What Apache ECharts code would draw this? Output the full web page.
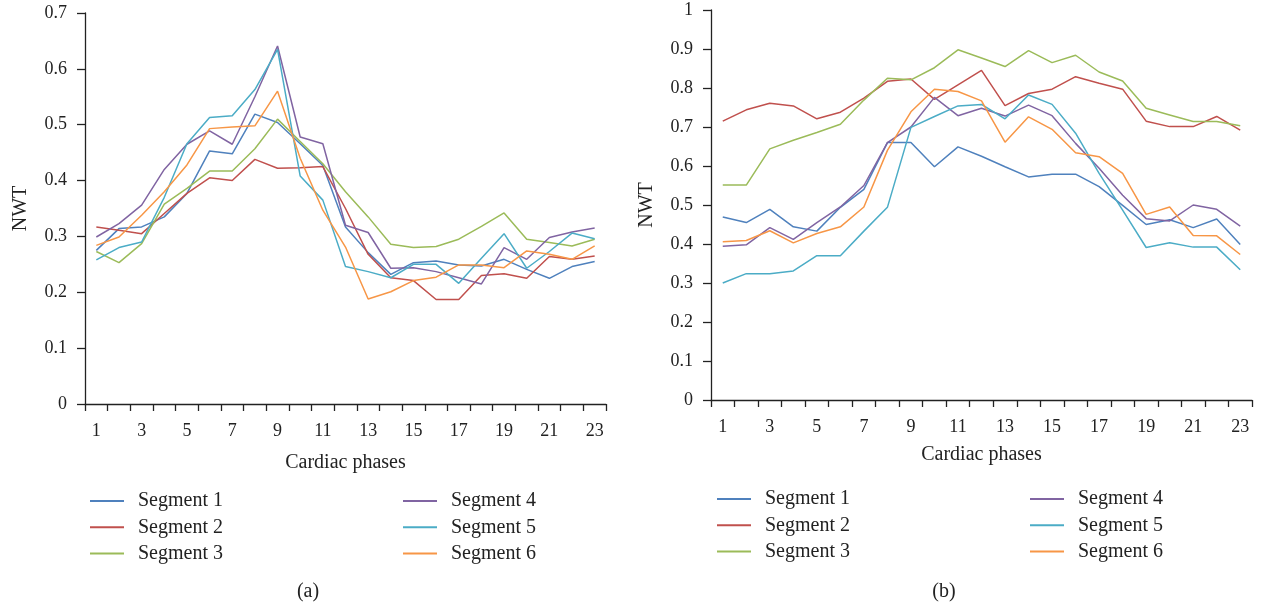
<!DOCTYPE html>
<html>
<head>
<meta charset="utf-8">
<script src="https://cdn.jsdelivr.net/npm/echarts@6/dist/echarts.min.js"></script>
<style>html,body{margin:0;padding:0;background:#fff;}#c{width:1262px;height:611px;}</style>
</head>
<body>
<div id="c"></div>
<script>
const phases = ['1','2','3','4','5','6','7','8','9','10','11','12','13','14','15','16','17','18','19','20','21','22','23'];
const segmentNames = ['Segment 1','Segment 2','Segment 3','Segment 4','Segment 5','Segment 6'];
const leftYTicks = [0,0.1,0.2,0.3,0.4,0.5,0.6,0.7];
const rightYTicks = [0,0.1,0.2,0.3,0.4,0.5,0.6,0.7,0.8,0.9,1];

// Panel (a)
const a_seg1 = [0.275,0.314,0.317,0.335,0.377,0.453,0.448,0.519,0.504,0.466,0.427,0.317,0.271,0.232,0.253,0.256,0.249,0.247,0.259,0.241,0.225,0.246,0.255];
const a_seg2 = [0.317,0.311,0.305,0.341,0.377,0.405,0.400,0.438,0.422,0.423,0.425,0.350,0.268,0.226,0.221,0.187,0.187,0.230,0.233,0.225,0.264,0.259,0.265];
const a_seg3 = [0.273,0.253,0.287,0.358,0.386,0.417,0.417,0.457,0.510,0.470,0.430,0.380,0.335,0.286,0.280,0.282,0.295,0.318,0.342,0.295,0.289,0.283,0.295];
const a_seg4 = [0.299,0.323,0.356,0.420,0.465,0.489,0.465,0.550,0.641,0.478,0.466,0.320,0.307,0.243,0.244,0.237,0.226,0.215,0.280,0.259,0.298,0.308,0.315];
const a_seg5 = [0.258,0.280,0.290,0.370,0.466,0.513,0.516,0.563,0.635,0.408,0.365,0.246,0.237,0.226,0.250,0.250,0.216,0.261,0.305,0.243,0.273,0.306,0.296];
const a_seg6 = [0.284,0.299,0.338,0.380,0.428,0.493,0.496,0.498,0.560,0.440,0.347,0.281,0.188,0.201,0.221,0.227,0.249,0.249,0.244,0.274,0.268,0.259,0.283];

// Panel (b)
const b_seg1 = [0.469,0.455,0.489,0.444,0.433,0.494,0.540,0.660,0.660,0.598,0.649,0.625,0.598,0.572,0.579,0.579,0.547,0.499,0.450,0.462,0.442,0.464,0.399];
const b_seg2 = [0.715,0.744,0.761,0.754,0.721,0.738,0.774,0.817,0.823,0.771,0.808,0.845,0.755,0.786,0.797,0.829,0.812,0.797,0.715,0.701,0.701,0.727,0.692];
const b_seg3 = [0.551,0.551,0.644,0.666,0.686,0.707,0.769,0.825,0.821,0.852,0.898,0.877,0.855,0.896,0.865,0.884,0.841,0.818,0.748,0.731,0.714,0.714,0.703];
const b_seg4 = [0.394,0.398,0.442,0.412,0.455,0.495,0.550,0.660,0.700,0.776,0.729,0.748,0.728,0.756,0.729,0.658,0.594,0.525,0.465,0.459,0.500,0.489,0.446];
const b_seg5 = [0.300,0.324,0.324,0.331,0.370,0.370,0.433,0.494,0.699,0.727,0.754,0.758,0.721,0.782,0.758,0.684,0.581,0.487,0.391,0.403,0.392,0.392,0.334];
const b_seg6 = [0.406,0.409,0.434,0.403,0.427,0.444,0.495,0.640,0.739,0.797,0.791,0.767,0.661,0.726,0.694,0.634,0.624,0.581,0.476,0.495,0.422,0.421,0.373];

const colors = ['#4F81BD','#C0504D','#9BBB59','#8064A2','#4BACC6','#F79646'];
const FONT = 'Liberation Serif';
const TXT = '#222';

const aData = [a_seg1,a_seg2,a_seg3,a_seg4,a_seg5,a_seg6];
const bData = [b_seg1,b_seg2,b_seg3,b_seg4,b_seg5,b_seg6];

function xAxisCfg(gridIndex, gap) {
  return {
    type: 'category', gridIndex, data: phases, boundaryGap: true,
    name: 'Cardiac phases', nameLocation: 'middle', nameGap: gap,
    nameTextStyle: {fontFamily: FONT, fontSize: 20, color: TXT},
    axisLine: {lineStyle: {color: '#222', width: 1.3}},
    axisTick: {show: true, inside: false, length: 7, interval: 0, alignWithLabel: false, lineStyle: {color: '#222', width: 1.3}},
    axisLabel: {interval: 1, fontFamily: FONT, fontSize: 18, color: TXT, margin: 18},
    splitLine: {show: false}
  };
}
function yAxisCfg(gridIndex, ticks, gap) {
  return {
    type: 'value', gridIndex, min: ticks[0], max: ticks[ticks.length-1], interval: 0.1,
    name: 'NWT', nameLocation: 'middle', nameGap: gap,
    nameTextStyle: {fontFamily: FONT, fontSize: 20, color: TXT},
    axisLine: {show: true, lineStyle: {color: '#222', width: 1.3}},
    axisTick: {show: true, inside: false, length: 8, lineStyle: {color: '#222', width: 1.3}},
    axisLabel: {fontFamily: FONT, fontSize: 18, color: TXT, margin: 18,
      formatter: v => String(Math.round(v*10)/10)},
    splitLine: {show: false}
  };
}
function legendCfg(left, top, names) {
  return {
    left, top, orient: 'vertical', data: names,
    icon: 'rect', itemWidth: 34, itemHeight: 2, itemGap: 4.3,
    selectedMode: false,
    textStyle: {fontFamily: FONT, fontSize: 20, color: TXT, lineHeight: 22, padding: [0,0,0,9]}
  };
}

const series = [];
segmentNames.forEach((n,i) => {
  series.push({name: n, type: 'line', xAxisIndex: 0, yAxisIndex: 0, data: aData[i],
    symbol: 'none', lineStyle: {width: 1.5, color: colors[i]}, itemStyle: {color: colors[i]}, animation: false});
});
segmentNames.forEach((n,i) => {
  series.push({name: n, type: 'line', xAxisIndex: 1, yAxisIndex: 1, data: bData[i],
    symbol: 'none', lineStyle: {width: 1.5, color: colors[i]}, itemStyle: {color: colors[i]}, animation: false});
});

const chart = echarts.init(document.getElementById('c'), null, {renderer: 'canvas'});
chart.setOption({
  backgroundColor: '#fff',
  animation: false,
  grid: [
    {left: 85, top: 13, width: 521, height: 391},
    {left: 711, top: 10, width: 541, height: 390}
  ],
  xAxis: [xAxisCfg(0, 49), xAxisCfg(1, 45)],
  yAxis: [yAxisCfg(0, leftYTicks, 54), yAxisCfg(1, rightYTicks, 54)],
  legend: [
    legendCfg(85, 485, segmentNames.slice(0,3)),
    legendCfg(398, 485, segmentNames.slice(3)),
    legendCfg(712, 483, segmentNames.slice(0,3)),
    legendCfg(1025, 483, segmentNames.slice(3))
  ],
  graphic: [
    {type: 'text', x: 308, y: 592, style: {text: '(a)', fontFamily: FONT, fontSize: 20, fill: TXT, align: 'center', verticalAlign: 'middle'}},
    {type: 'text', x: 944, y: 592, style: {text: '(b)', fontFamily: FONT, fontSize: 20, fill: TXT, align: 'center', verticalAlign: 'middle'}}
  ],
  series
});
</script>
</body>
</html>
